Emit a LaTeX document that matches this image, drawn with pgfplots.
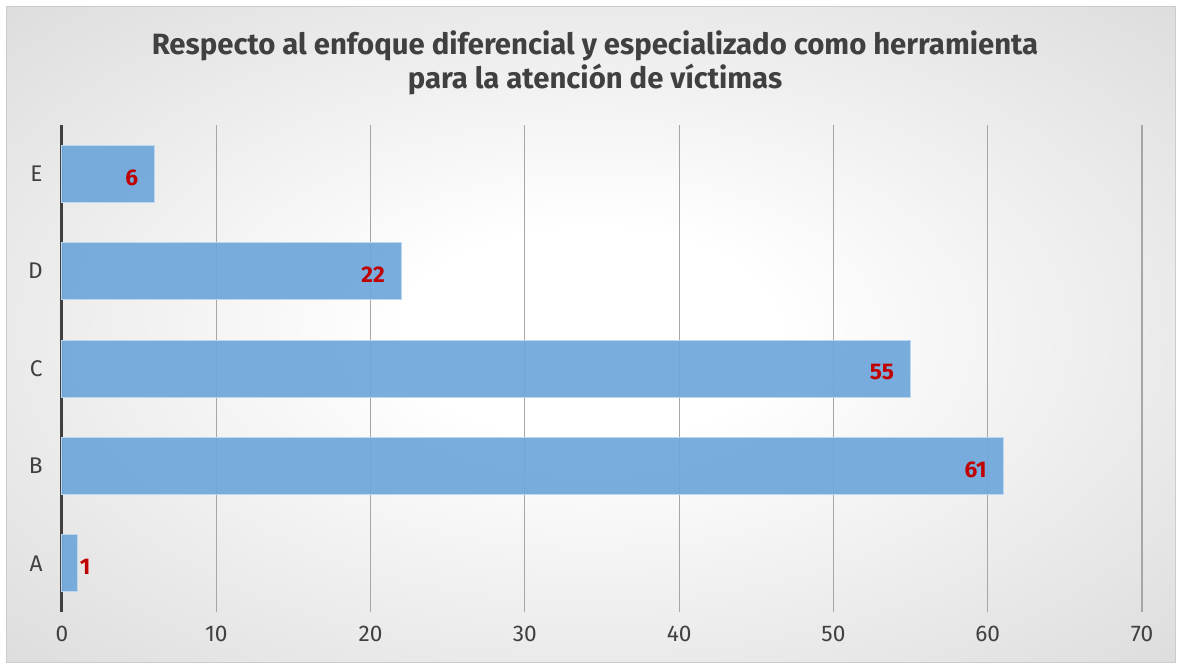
\documentclass[border=0pt]{standalone}
\usepackage{pgfplots}
\pgfplotsset{compat=1.18}
\usepackage{fontspec}
\setmainfont{Fira Sans}
\definecolor{barblue}{HTML}{6FA7DB}
\definecolor{txt}{HTML}{404040}
\definecolor{lblred}{HTML}{C00000}
\pgfdeclareradialshading{bgshade}{\pgfpoint{0bp}{0bp}}{color(0bp)=(white); color(8bp)=(white); color(70bp)=(black!30)}
\begin{document}
\begin{tikzpicture}[x=0.75pt,y=-0.75pt]
\fill[white] (0,0) rectangle (1180,668);
\shade[shading=bgshade] (6,6) rectangle (1175,662);
\draw[black!20, line width=0.75pt] (6,6) rectangle (1175,662);
\node[font=\bfseries\fontsize{22}{25.5}\selectfont, text=txt, align=center] at (595,63) {Respecto al enfoque diferencial y especializado como herramienta\\para la atención de víctimas};
\coordinate (axorig) at (62,612);
\begin{axis}[
  at={(axorig)}, anchor=south west,
  scale only axis, width=810pt, height=365.25pt,
  xmin=0, xmax=70, ymin=-0.5, ymax=4.5,
  xtick={0,10,...,70}, ytick={0,1,2,3,4},
  yticklabels={A,B,C,D,E},
  major tick length=0pt,
  axis x line*=bottom, axis y line*=left,
  x axis line style={draw=none},
  y axis line style={draw=txt, line width=2.25pt, -},
  xmajorgrids, grid style={black!35, line width=0.9pt},
  ticklabel style={text=txt, font=\fontsize{17}{17}\selectfont},
  xticklabel style={yshift=-7pt},
  yticklabel style={xshift=-11pt},
  /pgf/number format/assume math mode=true,
  clip=false,
]
\addplot[xbar, bar width=42.75pt, bar shift=0pt, fill=barblue, fill opacity=0.93,
  draw=barblue!45!white, line width=0.75pt,
  nodes near coords,
  nodes near coords style={anchor=east, inner sep=0pt, xshift=-12pt, yshift=-3pt, text=lblred, fill opacity=1, text opacity=1, font=\bfseries\fontsize{17}{17}\selectfont}]
  coordinates {(61,1) (55,2) (22,3) (6,4)};
\addplot[xbar, bar width=42.75pt, bar shift=0pt, fill=barblue, fill opacity=0.93,
  draw=barblue!45!white, line width=0.75pt,
  nodes near coords,
  nodes near coords style={anchor=west, inner sep=0pt, xshift=1.5pt, yshift=-3pt, text=lblred, fill opacity=1, text opacity=1, font=\bfseries\fontsize{17}{17}\selectfont}]
  coordinates {(1,0)};
\end{axis}
\end{tikzpicture}
\end{document}
